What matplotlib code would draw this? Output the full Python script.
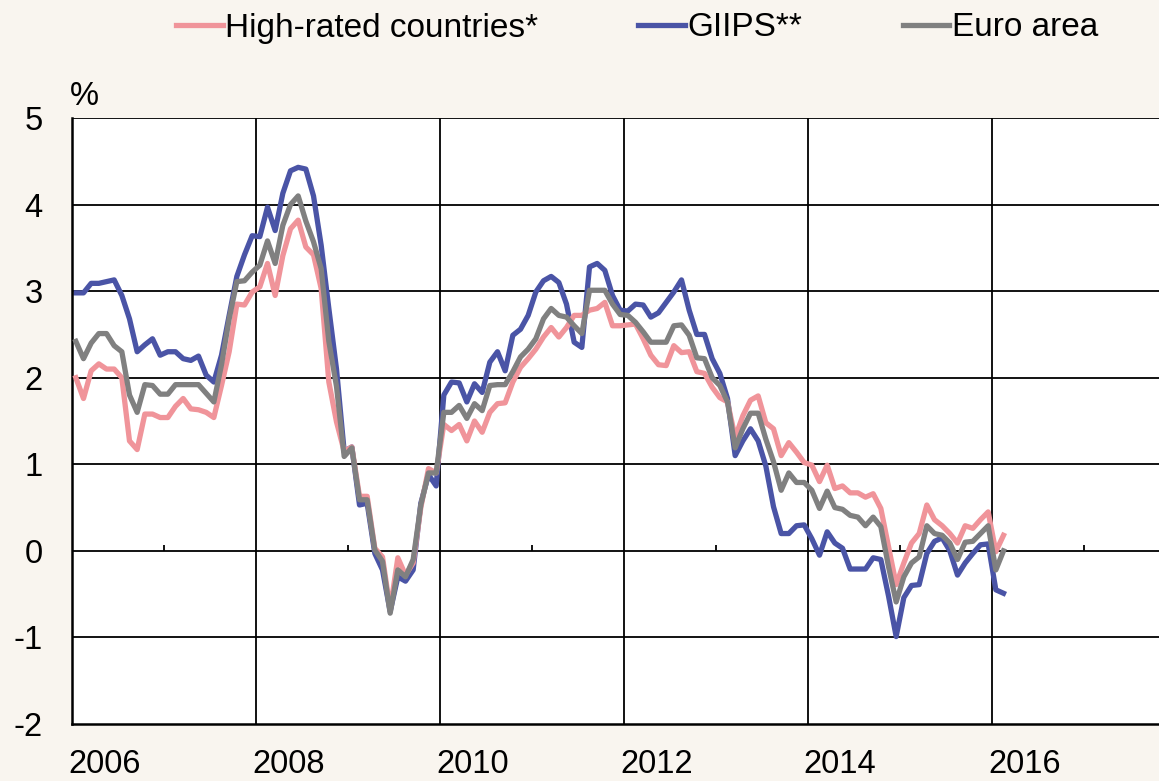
import numpy as np
import matplotlib
matplotlib.use("Agg")
import matplotlib.pyplot as plt

# monthly values, Jan 2006 - Feb 2016 (%)
high_rated = [
    2.00, 1.76, 2.08, 2.16, 2.10, 2.10, 2.00, 1.27, 1.17, 1.58, 1.58, 1.54,
    1.54, 1.67, 1.76, 1.64, 1.63, 1.60, 1.54, 1.91, 2.30, 2.85, 2.84, 2.99,
    3.05, 3.32, 2.95, 3.41, 3.72, 3.82, 3.51, 3.42, 3.03, 1.95, 1.49, 1.15,
    1.20, 0.63, 0.63, 0.03, -0.07, -0.68, -0.08, -0.28, -0.14, 0.50, 0.95, 0.90,
    1.46, 1.39, 1.46, 1.27, 1.50, 1.37, 1.60, 1.70, 1.71, 1.95, 2.12, 2.22,
    2.33, 2.47, 2.58, 2.47, 2.58, 2.72, 2.72, 2.78, 2.80, 2.87, 2.60, 2.60,
    2.61, 2.62, 2.45, 2.26, 2.15, 2.14, 2.37, 2.29, 2.30, 2.07, 2.05, 1.89,
    1.77, 1.72, 1.31, 1.56, 1.74, 1.79, 1.48, 1.41, 1.10, 1.25, 1.14, 1.02,
    0.99, 0.80, 0.99, 0.72, 0.75, 0.67, 0.67, 0.62, 0.66, 0.49, 0.05, -0.39,
    -0.14, 0.09, 0.20, 0.53, 0.36, 0.29, 0.20, 0.09, 0.29, 0.26, 0.36, 0.45,
    -0.01, 0.18,
]
giips = [
    2.98, 2.98, 3.09, 3.09, 3.11, 3.13, 2.95, 2.68, 2.30, 2.38, 2.45, 2.26,
    2.30, 2.30, 2.22, 2.20, 2.25, 2.03, 1.95, 2.26, 2.72, 3.17, 3.42, 3.64,
    3.63, 3.97, 3.70, 4.13, 4.39, 4.43, 4.41, 4.10, 3.53, 2.80, 2.10, 1.15,
    1.20, 0.53, 0.55, -0.03, -0.22, -0.70, -0.30, -0.35, -0.22, 0.55, 0.88, 0.75,
    1.80, 1.95, 1.94, 1.72, 1.93, 1.83, 2.18, 2.30, 2.08, 2.49, 2.56, 2.72,
    2.99, 3.12, 3.17, 3.10, 2.85, 2.41, 2.35, 3.28, 3.32, 3.24, 2.95, 2.78,
    2.77, 2.85, 2.84, 2.70, 2.75, 2.87, 2.99, 3.13, 2.78, 2.50, 2.50, 2.22,
    2.05, 1.76, 1.10, 1.27, 1.41, 1.27, 0.98, 0.51, 0.20, 0.20, 0.29, 0.30,
    0.14, -0.05, 0.22, 0.09, 0.03, -0.21, -0.21, -0.21, -0.08, -0.10, -0.52, -0.99,
    -0.54, -0.40, -0.39, -0.03, 0.11, 0.15, 0.00, -0.28, -0.14, -0.03, 0.07, 0.08,
    -0.45, -0.49,
]
euro_area = [
    2.42, 2.22, 2.40, 2.51, 2.51, 2.37, 2.30, 1.80, 1.60, 1.92, 1.91, 1.81,
    1.81, 1.92, 1.92, 1.92, 1.92, 1.82, 1.72, 2.15, 2.68, 3.11, 3.12, 3.22,
    3.30, 3.58, 3.32, 3.76, 4.00, 4.10, 3.81, 3.57, 3.26, 2.42, 1.90, 1.09,
    1.19, 0.59, 0.59, 0.01, -0.12, -0.72, -0.22, -0.30, -0.10, 0.53, 0.90, 0.90,
    1.60, 1.60, 1.68, 1.53, 1.70, 1.62, 1.91, 1.92, 1.92, 2.07, 2.24, 2.33,
    2.45, 2.68, 2.80, 2.72, 2.70, 2.60, 2.51, 3.01, 3.01, 3.01, 2.85, 2.73,
    2.72, 2.64, 2.53, 2.41, 2.41, 2.41, 2.60, 2.61, 2.49, 2.23, 2.22, 2.00,
    1.91, 1.72, 1.19, 1.41, 1.59, 1.59, 1.29, 1.03, 0.70, 0.90, 0.79, 0.79,
    0.70, 0.49, 0.69, 0.50, 0.48, 0.41, 0.39, 0.29, 0.39, 0.28, -0.18, -0.59,
    -0.30, -0.14, -0.07, 0.29, 0.20, 0.18, 0.09, -0.10, 0.10, 0.11, 0.20, 0.29,
    -0.22, 0.00,
]
series_names = ["High-rated countries*", "GIIPS**", "Euro area"]
year_labels = ["2006", "2008", "2010", "2012", "2014", "2016"]

t = 2006 + (np.arange(len(euro_area)) + 0.5) / 12

bg = "#f9f5ef"
fig = plt.figure(figsize=(11.59, 7.81), dpi=100, facecolor=bg)
ax = fig.add_axes([72 / 1159, 57 / 781, 1087 / 1159, 606 / 781])
ax.set_facecolor("white")

ax.set_xlim(2006, 2006 + 1087 / 92)
ax.set_ylim(-2, 5)

for y in range(-1, 6):
    ax.axhline(y, color="black", lw=1.3, zorder=1)
for yr in [2008, 2010, 2012, 2014, 2016]:
    ax.axvline(yr, color="black", lw=1.3, zorder=1)
ax.vlines(range(2007, 2018, 2), 0, 0.07, color="black", lw=1.3, zorder=1)

ax.plot(t, high_rated, color="#f0949a", lw=3.8, label=series_names[0], zorder=3)
ax.plot(t, giips, color="#4a54a6", lw=3.8, label=series_names[1], zorder=2)
ax.plot(t, euro_area, color="#808080", lw=3.8, label=series_names[2], zorder=4)

for s in ["top", "right"]:
    ax.spines[s].set_visible(False)
for s in ["left", "bottom"]:
    ax.spines[s].set_linewidth(1.8)

font = ["Liberation Sans", "DejaVu Sans"]
ax.set_yticks(range(-2, 6))
ax.set_yticklabels([str(v) for v in range(-2, 6)], family=font, fontsize=23.5)
ax.set_xticks(np.arange(2006, 2017, 2) + 0.35)
ax.set_xticklabels(year_labels, family=font, fontsize=23.5)
ax.tick_params(axis="y", length=0, pad=21)
ax.tick_params(axis="x", length=0, pad=18)

ax.text(-0.002, 1.035, "%", transform=ax.transAxes, family=font, fontsize=23.5,
        ha="left", va="center")

fig.legend(*ax.get_legend_handles_labels(), loc="center",
           bbox_to_anchor=(637 / 1159, 1 - 28 / 781), ncol=3, frameon=False,
           prop={"family": ["Liberation Sans Narrow", "Liberation Sans"], "size": 24},
           handlelength=1.4, handletextpad=0.08, columnspacing=3.0)

fig.savefig("out.png", dpi=100, facecolor=bg)
